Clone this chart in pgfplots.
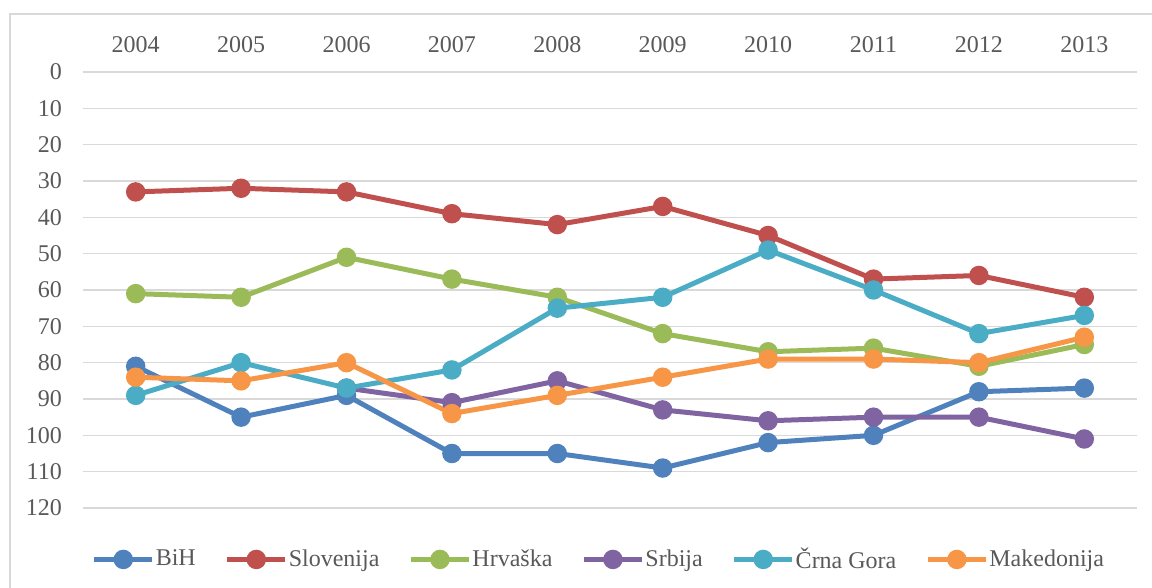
\documentclass[border=0pt]{standalone}
\usepackage{fontspec}
\setmainfont{Liberation Serif}
\usepackage{pgfplots}
\pgfplotsset{compat=1.18}
\definecolor{cBiH}{HTML}{4F81BD}
\definecolor{cSlo}{HTML}{C0504D}
\definecolor{cHrv}{HTML}{9BBB59}
\definecolor{cSrb}{HTML}{8064A2}
\definecolor{cCg}{HTML}{4BACC6}
\definecolor{cMak}{HTML}{F79646}
\definecolor{gridc}{HTML}{D9D9D9}
\definecolor{framec}{HTML}{D9D9D9}
\definecolor{textc}{HTML}{595959}
\begin{document}
\begin{tikzpicture}
\draw[framec, line width=1pt] (-36.5pt,-80pt) rectangle (620pt,247pt);
\begin{axis}[
  name=ax, at={(0,0)}, anchor=south west,
  scale only axis, width=527pt, height=218pt,
  xmin=2003.5, xmax=2013.5, ymin=0, ymax=120, y dir=reverse,
  xtick={2004,2005,2006,2007,2008,2009,2010,2011,2012,2013},
  ytick={0,10,20,30,40,50,60,70,80,90,100,110,120},
  xticklabel pos=right,
  /pgf/number format/1000 sep={},
  /pgf/number format/assume math mode=true,
  axis line style={draw=none},
  major tick length=0pt,
  ymajorgrids,
  grid style={gridc, line width=0.8pt},
  tick label style={font=\fontsize{12}{14}\selectfont, text=textc},
  yticklabel style={xshift=-6pt},
  xticklabel style={yshift=5pt},
  line width=2.5pt,
  every axis plot/.append style={line width=2.5pt, mark=*, mark size=3.6pt, mark options={solid}},
  legend style={at={(axis description cs:0.489,-0.118)}, anchor=center, draw=none, fill=none,
    font=\fontsize{12}{14}\selectfont, text=textc, legend columns=-1,
    nodes={inner xsep=0.5pt},
    /tikz/every even column/.append style={column sep=14pt},
    inner sep=0pt},
  legend image code/.code={\draw[mark repeat=2,mark phase=2] plot coordinates {(0pt,0pt)(14.5pt,0pt)(29pt,0pt)};},
]
\addplot[cBiH, mark options={fill=cBiH}] coordinates {(2004,81)(2005,95)(2006,89)(2007,105)(2008,105)(2009,109)(2010,102)(2011,100)(2012,88)(2013,87)};
\addlegendentry{BiH}
\addplot[cSlo, mark options={fill=cSlo}] coordinates {(2004,33)(2005,32)(2006,33)(2007,39)(2008,42)(2009,37)(2010,45)(2011,57)(2012,56)(2013,62)};
\addlegendentry{Slovenija}
\addplot[cHrv, mark options={fill=cHrv}] coordinates {(2004,61)(2005,62)(2006,51)(2007,57)(2008,62)(2009,72)(2010,77)(2011,76)(2012,81)(2013,75)};
\addlegendentry{Hrvaška}
\addplot[cSrb, mark options={fill=cSrb}] coordinates {(2006,87)(2007,91)(2008,85)(2009,93)(2010,96)(2011,95)(2012,95)(2013,101)};
\addlegendentry{Srbija}
\addplot[cCg, mark options={fill=cCg}] coordinates {(2004,89)(2005,80)(2006,87)(2007,82)(2008,65)(2009,62)(2010,49)(2011,60)(2012,72)(2013,67)};
\addlegendentry{Črna Gora}
\addplot[cMak, mark options={fill=cMak}] coordinates {(2004,84)(2005,85)(2006,80)(2007,94)(2008,89)(2009,84)(2010,79)(2011,79)(2012,80)(2013,73)};
\addlegendentry{Makedonija}
\end{axis}
\pgfresetboundingbox
\path[use as bounding box] (-41.5pt,-40pt) rectangle (534.5pt,254pt);
\end{tikzpicture}
\end{document}
